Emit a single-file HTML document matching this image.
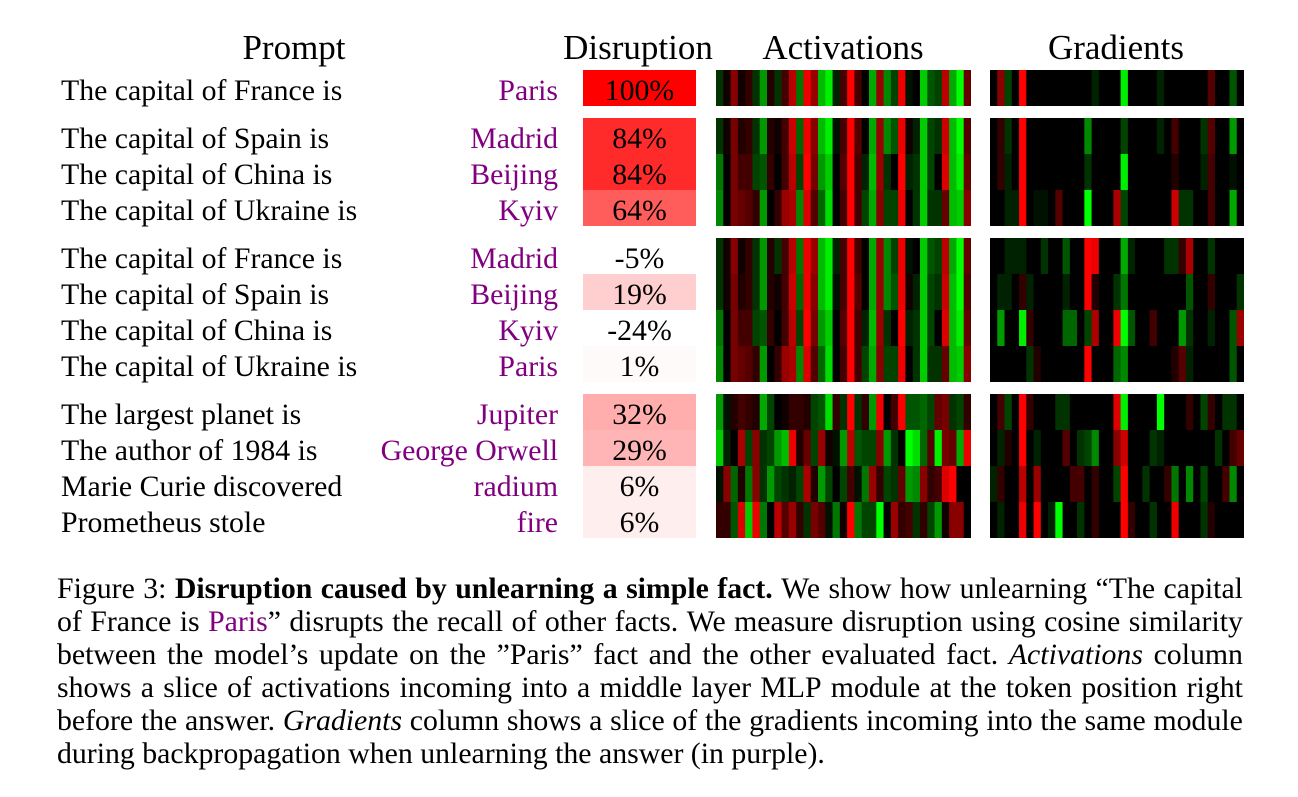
<!DOCTYPE html>
<html>
<head>
<meta charset="utf-8">
<style>
  html,body{margin:0;padding:0;background:#fff;}
  body{width:1298px;height:797px;position:relative;overflow:hidden;
       font-family:"Liberation Serif","Times New Roman",serif;color:#000;}
  .hd{position:absolute;top:28px;height:40px;line-height:40px;font-size:35px;white-space:nowrap;transform:translateX(-50%);}
  .p{position:absolute;left:61px;height:36px;line-height:36px;font-size:29.8px;white-space:nowrap;}
  .a{position:absolute;right:740px;height:36px;line-height:36px;font-size:29.8px;white-space:nowrap;color:#800080;text-align:right;}
  .v{position:absolute;left:583px;width:113px;height:36px;line-height:36px;font-size:29.8px;white-space:nowrap;text-align:center;}
  .cl{position:absolute;left:57px;width:1186px;height:33px;line-height:33px;font-size:29.8px;white-space:nowrap;
      display:flex;justify-content:space-between;}
  .cl6{position:absolute;left:57px;height:33px;line-height:33px;font-size:29.8px;white-space:nowrap;}
  .pu{color:#800080;}
</style>
</head>
<body>
<svg width="1298" height="797" style="position:absolute;left:0;top:0">
  <rect x="583" y="70" width="113" height="36" fill="#ff0000"/>
  <rect x="583" y="118" width="113" height="36.5" fill="#ff2b2b"/>
  <rect x="583" y="154" width="113" height="36.5" fill="#ff2b2b"/>
  <rect x="583" y="190" width="113" height="36" fill="#ff5c5c"/>
  <rect x="583" y="238" width="113" height="36" fill="#ffffff"/>
  <rect x="583" y="274" width="113" height="36" fill="#ffcece"/>
  <rect x="583" y="310" width="113" height="36" fill="#ffffff"/>
  <rect x="583" y="346" width="113" height="36" fill="#fffafa"/>
  <rect x="583" y="394" width="113" height="36.5" fill="#ffadad"/>
  <rect x="583" y="430" width="113" height="36.5" fill="#ffb5b5"/>
  <rect x="583" y="466" width="113" height="36.5" fill="#ffeeee"/>
  <rect x="583" y="502" width="113" height="36" fill="#ffeeee"/>
</svg>
<svg id="hm" width="1298" height="797" style="position:absolute;left:0;top:0"></svg>

<div class="hd" style="left:294px">Prompt</div>
<div class="hd" style="left:638px">Disruption</div>
<div class="hd" style="left:843px">Activations</div>
<div class="hd" style="left:1116px">Gradients</div>

<div class="p" style="top:72.5px">The capital of France is</div>
<div class="p" style="top:120.5px">The capital of Spain is</div>
<div class="p" style="top:156.5px">The capital of China is</div>
<div class="p" style="top:192.5px">The capital of Ukraine is</div>
<div class="p" style="top:240.5px">The capital of France is</div>
<div class="p" style="top:276.5px">The capital of Spain is</div>
<div class="p" style="top:312.5px">The capital of China is</div>
<div class="p" style="top:348.5px">The capital of Ukraine is</div>
<div class="p" style="top:396.5px">The largest planet is</div>
<div class="p" style="top:432.5px">The author of 1984 is</div>
<div class="p" style="top:468.5px">Marie Curie discovered</div>
<div class="p" style="top:504.5px">Prometheus stole</div>

<div class="a" style="top:72.5px">Paris</div>
<div class="a" style="top:120.5px">Madrid</div>
<div class="a" style="top:156.5px">Beijing</div>
<div class="a" style="top:192.5px">Kyiv</div>
<div class="a" style="top:240.5px">Madrid</div>
<div class="a" style="top:276.5px">Beijing</div>
<div class="a" style="top:312.5px">Kyiv</div>
<div class="a" style="top:348.5px">Paris</div>
<div class="a" style="top:396.5px">Jupiter</div>
<div class="a" style="top:432.5px">George Orwell</div>
<div class="a" style="top:468.5px">radium</div>
<div class="a" style="top:504.5px">fire</div>

<div class="v" style="top:72.5px">100%</div>
<div class="v" style="top:120.5px">84%</div>
<div class="v" style="top:156.5px">84%</div>
<div class="v" style="top:192.5px">64%</div>
<div class="v" style="top:240.5px">-5%</div>
<div class="v" style="top:276.5px">19%</div>
<div class="v" style="top:312.5px">-24%</div>
<div class="v" style="top:348.5px">1%</div>
<div class="v" style="top:396.5px">32%</div>
<div class="v" style="top:432.5px">29%</div>
<div class="v" style="top:468.5px">6%</div>
<div class="v" style="top:504.5px">6%</div>

<div class="cl" style="top:571.5px"><span>Figure</span><span>3:</span><b>Disruption</b><b>caused</b><b>by</b><b>unlearning</b><b>a</b><b>simple</b><b>fact.</b><span>We</span><span>show</span><span>how</span><span>unlearning</span><span>“The</span><span>capital</span></div>
<div class="cl" style="top:604.5px"><span>of</span><span>France</span><span>is</span><span><span class="pu">Paris</span>”</span><span>disrupts</span><span>the</span><span>recall</span><span>of</span><span>other</span><span>facts.</span><span>We</span><span>measure</span><span>disruption</span><span>using</span><span>cosine</span><span>similarity</span></div>
<div class="cl" style="top:637.5px"><span>between</span><span>the</span><span>model’s</span><span>update</span><span>on</span><span>the</span><span>”Paris”</span><span>fact</span><span>and</span><span>the</span><span>other</span><span>evaluated</span><span>fact.</span><i>Activations</i><span>column</span></div>
<div class="cl" style="top:670.5px"><span>shows</span><span>a</span><span>slice</span><span>of</span><span>activations</span><span>incoming</span><span>into</span><span>a</span><span>middle</span><span>layer</span><span>MLP</span><span>module</span><span>at</span><span>the</span><span>token</span><span>position</span><span>right</span></div>
<div class="cl" style="top:703.5px"><span>before</span><span>the</span><span>answer.</span><i>Gradients</i><span>column</span><span>shows</span><span>a</span><span>slice</span><span>of</span><span>the</span><span>gradients</span><span>incoming</span><span>into</span><span>the</span><span>same</span><span>module</span></div>
<div class="cl6" style="top:736.5px">during backpropagation when unlearning the answer (in purple).</div>

<script>
const A=[
"g3 r1 r8 r1 r3 g3 g9 r2 g3 r4 rb g7 re r9 gb ge g2 r4 rf r4 r0 ga r9 g8 g4 re g1 r0 gc g5 g4 rb ga gf r6",
"g3 r1 r7 r2 r3 g3 g9 r2 r1 r4 rc g6 re r8 gb ge g1 r4 rf r5 r0 ga r9 g8 g5 re r1 g2 gc g4 g3 rc gb gf r5",
"g7 r0 r7 r4 r4 g4 g5 r3 r0 r4 rb g4 rf r7 g9 gc r0 r5 rf r4 g2 gb r9 g3 r0 rf g2 g3 gc g4 r0 rd gb ge r6",
"g8 r0 r7 r6 r5 r3 g9 r0 r3 r9 ra g8 rd r5 g6 gd r0 r4 rf r4 g4 ga r8 g4 g4 re r0 g3 gc g3 g3 r6 gb gc r8",
"g9 g1 r2 r4 r3 r2 ga g4 r0 r1 r3 r3 r2 g4 g5 gd r3 g3 rf g3 r3 g9 re r0 r4 rf g5 g5 g6 g4 r6 r7 g3 g4 r3",
"gc g2 r0 ra g4 r8 g3 g4 g9 gb re r2 r6 g4 r9 r1 g1 g9 rb g5 g4 g4 r8 g9 g3 r0 gf gd g6 r5 ge r7 r6 ga re",
"g1 r8 g6 r2 g7 r8 g3 g9 g4 g3 g2 g4 ra r2 g9 g4 r0 g4 r4 g1 g7 r9 r3 g4 g3 r6 g9 g8 r8 r3 r4 rd rf r0 r0",
"r3 r3 g5 rd gc re g7 r0 rb r5 r9 r3 g3 r7 r5 g1 g7 r1 rf g7 g4 g4 gf r0 r9 r3 r4 g3 r3 g4 g9 r1 r8 r8 r0"
].map(s=>s.trim().split(/\s+/));
function sp(s){const a=Array(35).fill('r0');s.trim().split(/\s+/).forEach(t=>{const m=t.match(/^(\d+)([rg][0-9a-f])$/);if(m)a[+m[1]]=m[2];});return a;}
const G=[
"1r8 2g4 4rf 14g2 18ge 23g2 30r5 33g5",
"1r3 2g3 4rf 13g8 18g4 23g2 25r4 29g3 30r5 33g9",
"1r3 2g2 4rf 13g3 18ge 25r2 29g2 30r4 33g1",
"2g2 3g2 4rf 6g1 7g1 9r5 13gf 17ra 18g4 25rc 26g3 27g3 30r4 33ga",
"2g2 3g2 4g2 7g3 10g5 13rf 14re 18ga 19g2 24g3 25g3 26r3 27ra 30g3",
"1g2 2g2 4r3 5g2 10g2 13rf 14r2 17g3 18g7 27g5 30r3 34g3",
"1g9 4ge 5r3 10g6 11g6 13g4 14ra 17re 18gf 19g5 22r4 26g9 27g3 30g2 33g5 34r9",
"5g3 6r2 13rf 17g6 18g8 25r2 26r5 27g2 33g5",
"1r4 2g4 4rf 5r3 9g3 10g3 17rd 18ge 23gf 27r3 29g4 30r3 32g3 33g3",
"1g2 2r2 4rf 6g2 10r5 12g3 13g4 14g8 17r8 18rc 22g3 23g2 31g3 33r4 34r6",
"0g2 1r3 4rb 6r9 11r4 12r4 14r3 17g4 18rf 21g3 24r3 25g7 27g8 29g4 32r4 33g8",
"1g2 4re 6rf 8g2 9gf 12g3 14r3 18rf 19r3 22g3 25re 29g3 30r2"
].map(sp);
function col(t){const v=parseInt(t[1],16)*17;return t[0]=='r'?'rgb('+v+',0,0)':'rgb(0,'+v+',0)';}
let h='';
function draw(x0,w,y0,rows){const cw=w/35;rows.forEach((r,i)=>{r.forEach((t,j)=>{const ww=j<34?cw+0.6:cw;const hh=i<rows.length-1?36.5:36;h+='<rect x="'+(x0+j*cw).toFixed(2)+'" y="'+(y0+i*36)+'" width="'+ww.toFixed(2)+'" height="'+hh+'" fill="'+col(t)+'"/>';});});}
const AX=716,AW=255,GX=990,GW=254;
draw(AX,AW,70,[A[0]]);            draw(GX,GW,70,[G[0]]);
draw(AX,AW,118,[A[1],A[2],A[3]]); draw(GX,GW,118,[G[1],G[2],G[3]]);
draw(AX,AW,238,[A[0],A[1],A[2],A[3]]); draw(GX,GW,238,[G[4],G[5],G[6],G[7]]);
draw(AX,AW,394,[A[4],A[5],A[6],A[7]]); draw(GX,GW,394,[G[8],G[9],G[10],G[11]]);
document.getElementById('hm').innerHTML=h;
</script>
</body>
</html>
